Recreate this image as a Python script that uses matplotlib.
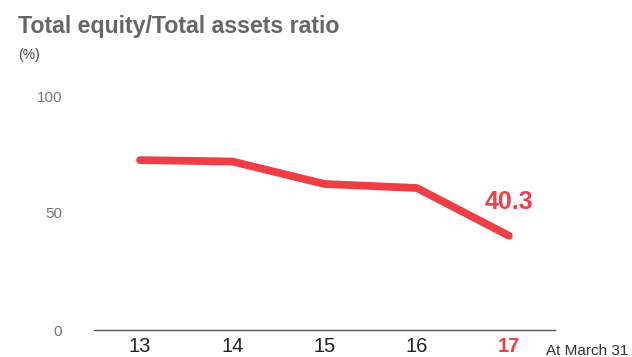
import matplotlib.pyplot as plt

years = [13, 14, 15, 16, 17]
year_labels = ["13", "14", "15", "16", "17"]
ratio = [72.6, 72.0, 62.4, 60.7, 40.3]
y_ticks = [0, 50, 100]

RED = "#ef3e46"
GRAY = "#666666"

plt.rcParams["font.family"] = ["Liberation Sans", "DejaVu Sans"]

fig = plt.figure(figsize=(6.32, 3.57), dpi=100)
W, H = 632, 357
# axes box in pixel terms: x 94..555, y 96 (100%) .. 330 (0%)
ax = fig.add_axes([94 / W, (H - 330) / H, (555 - 94) / W, (330 - 96) / H])

ax.plot(years, ratio, color=RED, lw=5.6, solid_capstyle="round",
        solid_joinstyle="round")

ax.annotate(f"{ratio[-1]:.1f}", (years[-1], ratio[-1]), xytext=(0, 34),
            textcoords="offset pixels", ha="center", va="center",
            color=RED, fontsize=18, fontweight="bold")

ax.set_xlim(12.5, 17.5)
ax.set_ylim(0, 100)
ax.set_yticks(y_ticks)
ax.set_yticklabels([str(t) for t in y_ticks], color="#777777", fontsize=11)
ax.set_xticks(years)
ax.set_xticklabels(year_labels, fontsize=14.5, color="#222222")
last = ax.get_xticklabels()[-1]
last.set_color(RED)
last.set_fontweight("bold")

ax.tick_params(axis="y", length=0, pad=23)
ax.tick_params(axis="x", length=0, pad=5)
for side in ("top", "right", "left"):
    ax.spines[side].set_visible(False)
ax.spines["bottom"].set_color("#555555")
ax.spines["bottom"].set_linewidth(1.0)

fig.text(18 / W, 1 - 26 / H, "Total equity/Total assets ratio", fontsize=16.7,
         fontweight="bold", color=GRAY, va="center", ha="left")
fig.text(18 / W, 1 - 55 / H, "(%)", fontsize=10, color="#444444",
         va="center", ha="left")
fig.text(546 / W, 1 - 355 / H, "At March 31", fontsize=11, color="#333333",
         va="baseline", ha="left")

fig.savefig("out.png", dpi=100)
